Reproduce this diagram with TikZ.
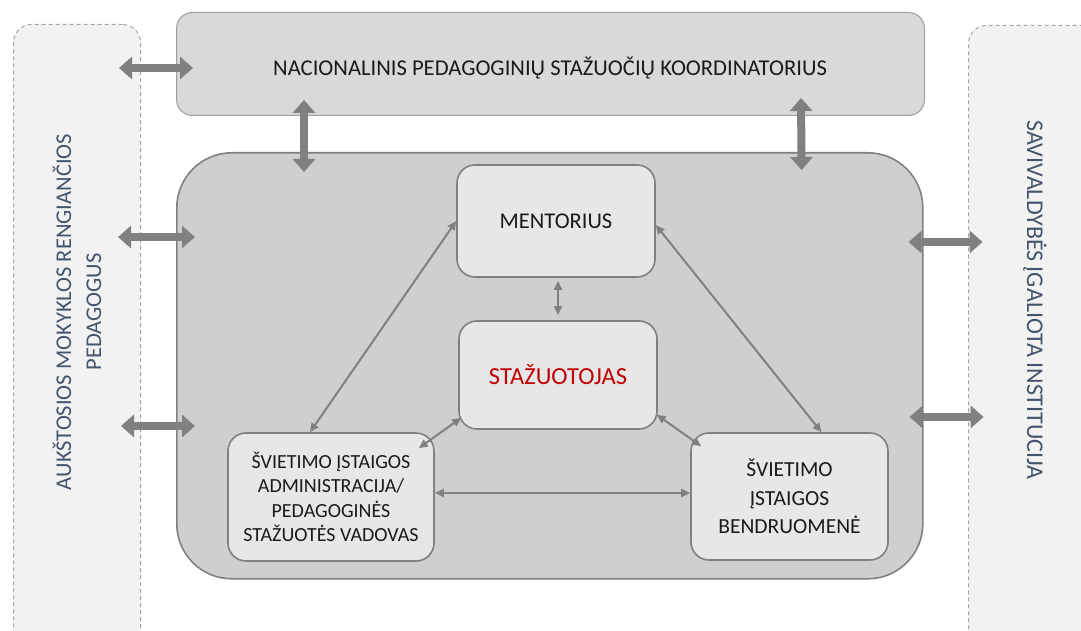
\documentclass[tikz,border=0pt]{standalone}
\usepackage{fontspec}
\setmainfont{Carlito}
\usetikzlibrary{arrows.meta,calc}
\definecolor{arr}{HTML}{808080}
\definecolor{topfill}{HTML}{D9D9D9}
\definecolor{bigfill}{HTML}{D0CFD0}
\definecolor{inner}{HTML}{E8E7E8}
\definecolor{side}{HTML}{F2F2F2}
\definecolor{sidetext}{HTML}{44546A}
\definecolor{maintext}{HTML}{1A1A1A}
\definecolor{redtext}{HTML}{C00000}
\tikzset{
  sidebox/.style={draw=black!35, dashed, dash pattern=on 4pt off 3pt, fill=side, rounded corners=18pt, line width=1pt},
  topbox/.style={draw=black!38, fill=topfill, rounded corners=16pt, line width=1pt},
  bigbox/.style={draw=arr, fill=bigfill, rounded corners=55pt, line width=1.6pt},
  innerbox/.style={draw=arr, fill=inner, rounded corners=18pt, line width=1.6pt, align=center, text=maintext, inner sep=0pt},
  bigarrow/.style={draw=arr, line width=8pt, {Triangle[width=22pt,length=13pt]}-{Triangle[width=22pt,length=13pt]}},
  thinarrow/.style={draw=arr, line width=2pt, {Triangle[width=8pt,length=9pt]}-{Triangle[width=8pt,length=9pt]}},
}
\begin{document}
\begin{tikzpicture}[x=1pt,y=-1pt]
\useasboundingbox (0,0) rectangle (1081,631);
% side boxes
\node[sidebox, minimum width=127pt, minimum height=626pt, anchor=north west] (lbox) at (13,24) {};
\node[sidebox, minimum width=140pt, minimum height=626pt, anchor=north west] (rbox) at (968,25) {};
\node[rotate=90, align=center, text=sidetext, font=\fontsize{22.5}{30}\selectfont] (ltext) at (77,312) {AUKŠTOSIOS MOKYKLOS RENGIANČIOS\\PEDAGOGUS};
\node[rotate=-90, align=center, text=sidetext, font=\fontsize{24}{30}\selectfont] (rtext) at (1035,300) {SAVIVALDYBĖS ĮGALIOTA INSTITUCIJA};
% top box
\node[topbox, minimum width=748pt, minimum height=103pt, anchor=north west] (top) at (176,12) {};
\node[text=maintext, font=\fontsize{22.6}{26}\selectfont] (ttl) at (550,68) {NACIONALINIS PEDAGOGINIŲ STAŽUOČIŲ KOORDINATORIUS};
% big box
\node[bigbox, minimum width=746pt, minimum height=426pt, anchor=north west] (big) at (176,152) {};
% inner boxes
\node[innerbox, minimum width=198pt, minimum height=112pt, font=\fontsize{22.5}{26}\selectfont] (ment) at (556,221) {MENTORIUS};
\node[innerbox, minimum width=198pt, minimum height=108pt, text=redtext, font=\fontsize{24.5}{28}\selectfont] (staz) at (558,375) {STAŽUOTOJAS};
\node[innerbox, minimum width=206pt, minimum height=128pt, font=\fontsize{20}{24.5}\selectfont] (adm) at (331,497) {ŠVIETIMO ĮSTAIGOS\\ADMINISTRACIJA/\\PEDAGOGINĖS\\STAŽUOTĖS VADOVAS};
\node[innerbox, minimum width=197pt, minimum height=127pt, font=\fontsize{21.5}{28.5}\selectfont] (bend) at (789.5,496.5) {ŠVIETIMO\\ĮSTAIGOS\\BENDRUOMENĖ};
% thick arrows
\draw[bigarrow] ([xshift=-22pt]lbox.east |- ttl.center) -- ([xshift=17pt]top.west |- ttl.center);
\draw[bigarrow] ($(top.south west)+(128,-16)$) -- ($(big.north west)+(128,20)$);
\draw[bigarrow] ($(top.south east)+(-124,-18)$) -- ($(big.north east)+(-122,18)$);
\draw[bigarrow] ($(big.north west)+(-58,85)$) -- ($(big.north west)+(19,85)$);
\draw[bigarrow] ($(big.north west)+(-55,274)$) -- ($(big.north west)+(19,274)$);
\draw[bigarrow] ($(big.north east)+(-15,90)$) -- ($(big.north east)+(59,90)$);
\draw[bigarrow] ($(big.north east)+(-14,265)$) -- ($(big.north east)+(60,265)$);
% thin arrows
\draw[thinarrow, shorten <=3pt, shorten >=5pt] (staz.north |- ment.south) -- (staz.north);
\draw[thinarrow] ([xshift=-21pt]adm.north) -- (ment.west);
\draw[thinarrow] ([xshift=32pt]bend.north) -- ([yshift=-4pt]ment.east);
\draw[thinarrow] ($(staz.south west)+(3,-12)$) -- ($(adm.north east)+(-16,16)$);
\draw[thinarrow] ($(staz.south east)+(-1,-15)$) -- ($(bend.north west)+(11,14)$);
\draw[thinarrow] ([yshift=4pt]adm.east) -- ([yshift=4pt]adm.east -| bend.west);
\end{tikzpicture}
\end{document}
